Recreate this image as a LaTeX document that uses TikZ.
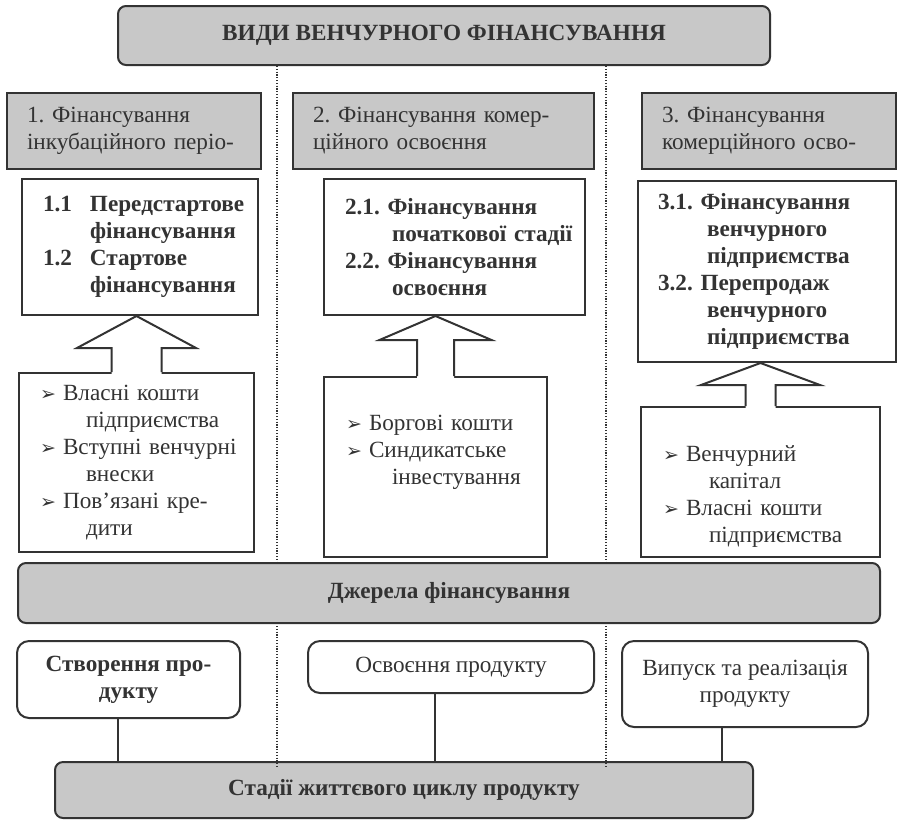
\documentclass[tikz,border=0pt]{standalone}
\usepackage{fontspec}
\setmainfont{Liberation Serif}
\newfontfamily\symfont{DejaVu Sans}

\definecolor{ink}{HTML}{333333}
\definecolor{boxgray}{HTML}{C8C8C8}

\newcommand\basefont{\fontsize{11.6}{13.5}\selectfont}
\newcommand\arrbullet{\makebox[11.5pt][l]{\symfont\fontsize{9.5}{9.5}\selectfont ➢}}

% block arrow from source box up to the box above it
% #1 source, #2 target, #3 half shaft, #4 half head, #5 head height (px)
\newcommand\blockarrow[5]{%
  \coordinate (#1tip) at (#2.south -| #1.north);
  \fill[white] ([shift={(-#3,2)}]#1.north) -- ([shift={(-#3,#5)}]#1tip) -- ([shift={(-#4,#5)}]#1tip)
     -- (#1tip) -- ([shift={(#4,#5)}]#1tip) -- ([shift={(#3,#5)}]#1tip) -- ([shift={(#3,2)}]#1.north) -- cycle;
  \draw[blockline] ([shift={(-#3,0)}]#1.north) -- ([shift={(-#3,#5)}]#1tip) -- ([shift={(-#4,#5)}]#1tip)
     -- (#1tip) -- ([shift={(#4,#5)}]#1tip) -- ([shift={(#3,#5)}]#1tip) -- ([shift={(#3,0)}]#1.north);
}

\begin{document}
\begin{tikzpicture}[x=0.5pt, y=-0.5pt, line join=miter, text=ink]

        \tikzstyle{bar}=[draw=ink, fill=boxgray, line width=1pt, rounded corners=4pt, font=\basefont\bfseries]
        \tikzstyle{headbox}=[draw=ink, fill=boxgray, line width=1pt, align=left, inner xsep=10pt, inner ysep=2pt, minimum height=38pt, font=\basefont]
        \tikzstyle{itembox}=[draw=ink, fill=white, line width=1pt, align=left, inner ysep=2pt, font=\basefont\bfseries]
        \tikzstyle{srcbox}=[draw=ink, fill=white, line width=1pt, align=left, inner ysep=2pt, font=\basefont]
        \tikzstyle{stagebox}=[draw=ink, fill=white, line width=1pt, rounded corners=6pt, align=center, font=\basefont]
        \tikzstyle{blockline}=[draw=ink, line width=1pt]
        \tikzstyle{link}=[draw=ink, line width=1pt]
        \tikzstyle{sepline}=[draw=ink, line width=0.7pt, dash pattern=on 0.6pt off 0.8pt]

        \useasboundingbox (0,0) rectangle (897,820);

        % Draw the title and the life cycle bar
        \node[bar, minimum width=326pt, minimum height=29.5pt] (top) at (444,35.5) {ВИДИ ВЕНЧУРНОГО ФІНАНСУВАННЯ};
        \node[bar, minimum width=349pt, minimum height=28pt] (stages) at (404,790) {Стадії життєвого циклу продукту};

        % Draw the separators
        \coordinate (sep-1) at (277,767);
        \coordinate (sep-2) at (606,767);
        \foreach \s in {1,2}
                \draw[sepline] (top.south -| sep-\s) -- (sep-\s);

        % Draw the kinds of financing
        \node[headbox, text width=107pt] (h1) at (134,131) {1.~Фінансування\\інкубаційного~періо-};
        \node[headbox, text width=130.5pt] (h2) at (443.5,131) {2.~Фінансування~комер-\\ційного~освоєння};
        \node[headbox, text width=107pt] (h3) at (769,131) {3.~Фінансування\\комерційного~осво-};

        % Draw the stages of financing
        \node[itembox, text width=97pt, inner xsep=10.5pt, minimum height=68pt] (i1) at (140,247)
                {\makebox[23.5pt][l]{1.1}Передстартове\\\hspace*{23.5pt}фінансування\\
                 \makebox[23.5pt][l]{1.2}Стартове\\\hspace*{23.5pt}фінансування};
        \node[itembox, text width=109.5pt, inner xsep=10.5pt, minimum height=68pt] (i2) at (454.5,247)
                {2.1.~Фінансування\\\hspace*{23.5pt}початкової~стадії\\
                 2.2.~Фінансування\\\hspace*{23.5pt}освоєння};
        \node[itembox, text width=109pt, inner xsep=10pt, minimum height=90.5pt] (i3) at (767,271.5)
                {3.1.~Фінансування\\\hspace*{24.5pt}венчурного\\\hspace*{24.5pt}підприємства\\
                 3.2.~Перепродаж\\\hspace*{24.5pt}венчурного\\\hspace*{24.5pt}підприємства};

        % Draw the sources of financing
        \node[srcbox, text width=96.5pt, inner xsep=10.5pt, minimum height=89.5pt] (s1) at (136.5,462.5)
                {\arrbullet Власні~кошти\\\hspace*{23pt}підприємства\\
                 \arrbullet Вступні~венчурні\\\hspace*{23pt}внески\\
                 \arrbullet Пов’язані~кре-\\\hspace*{23pt}дити};
        \node[srcbox, text width=89.5pt, inner xsep=11pt, minimum height=90pt] (s2) at (435.5,467)
                {\arrbullet Боргові~кошти\\
                 \arrbullet Синдикатське\\\hspace*{23pt}інвестування\\\strut};
        \node[srcbox, text width=97.5pt, inner xsep=11pt, minimum height=75pt] (s3) at (760.5,482)
                {\strut\\\arrbullet Венчурний\\\hspace*{23pt}капітал\\
                 \arrbullet Власні~кошти\\\hspace*{23pt}підприємства};

        % Connect the sources with the stages
        \blockarrow{s1}{i1}{25}{59.5}{32}
        \blockarrow{s2}{i2}{18.5}{56}{24}
        \blockarrow{s3}{i3}{15}{59.5}{22}

        % Draw the sources bar
        \node[bar, minimum width=431pt, minimum height=30pt] (fin) at (449,593) {Джерела фінансування};

        % Draw the life cycle stages
        \node[stagebox, font=\basefont\bfseries, minimum width=111.5pt, minimum height=38.5pt] (st-1) at (128.5,679.5) {Створення про-\\дукту};
        \node[stagebox, minimum width=143pt, minimum height=26pt] (st-2) at (451,667) {Освоєння продукту};
        \node[stagebox, minimum width=123pt, minimum height=43pt] (st-3) at (745,684) {Випуск та реалізація\\продукту};

        % Connect the stages with the life cycle bar
        \foreach \n/\dx in {1/-5.25, 2/-8, 3/-11.5}{
                \coordinate (l-\n) at ([xshift=\dx pt]st-\n.south);
                \draw[link] (l-\n) -- (l-\n |- stages.north);
        }

\end{tikzpicture}
\end{document}
